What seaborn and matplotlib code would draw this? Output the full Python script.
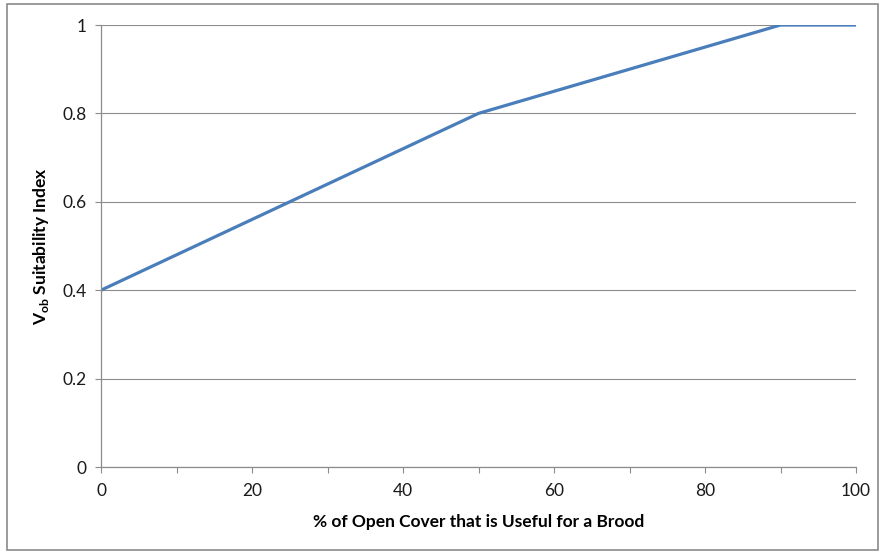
import matplotlib
matplotlib.use("Agg")
import matplotlib.pyplot as plt
import seaborn as sns
import pandas as pd
from matplotlib.patches import Rectangle
from matplotlib.ticker import MultipleLocator

# Suitability curve for open brood cover
open_cover_pct = [0, 50, 90, 100]
suitability = [0.4, 0.8, 1.0, 1.0]

x_ticks = [0, 20, 40, 60, 80, 100]
y_ticks = [0, 0.2, 0.4, 0.6, 0.8, 1]
y_tick_labels = ["0", "0.2", "0.4", "0.6", "0.8", "1"]

df = pd.DataFrame({"cover": open_cover_pct, "si": suitability})

sns.set_theme(style="white")
plt.rcParams["font.family"] = ["Lato", "DejaVu Sans"]
plt.rcParams["mathtext.fontset"] = "custom"
plt.rcParams["mathtext.rm"] = "Lato"
plt.rcParams["mathtext.bf"] = "Lato:bold"

fig = plt.figure(figsize=(8.8, 5.54), dpi=100)
ax = fig.add_axes([101 / 880, 1 - 467 / 554, (856 - 101) / 880, (467 - 25) / 554])

sns.lineplot(data=df, x="cover", y="si", ax=ax, color="#4A7EBB", linewidth=2.3)

grey = "#8C8C8C"
ax.set_xlim(0, 100)
ax.set_ylim(0, 1)
ax.set_xticks(x_ticks)
ax.xaxis.set_minor_locator(MultipleLocator(10))
ax.set_yticks(y_ticks)
ax.set_yticklabels(y_tick_labels)
ax.yaxis.grid(True, color=grey, linewidth=0.8)
ax.xaxis.grid(False)

for side in ["top", "right"]:
    ax.spines[side].set_visible(False)
for side in ["left", "bottom"]:
    ax.spines[side].set_color(grey)
    ax.spines[side].set_linewidth(0.9)

ax.tick_params(axis="both", which="both", direction="out", color=grey,
               width=0.8, length=4.5, labelsize=12.5, labelcolor="#1a1a1a")
ax.tick_params(axis="x", which="both", bottom=True, pad=7)
ax.tick_params(axis="y", left=True, pad=6)

ax.set_xlabel("% of Open Cover that is Useful for a Brood",
              fontsize=12.5, fontweight="bold", color="#000000", labelpad=11)
ax.set_ylabel(r"$\mathbf{V}_{\mathbf{ob}}$ Suitability Index",
              fontsize=12.5, fontweight="bold", color="#000000", labelpad=8)

# outer chart frame
fig.patches.append(Rectangle((7 / 880, 1 - 550 / 554), (878 - 7) / 880, (550 - 4) / 554,
                             transform=fig.transFigure, fill=False,
                             edgecolor="#8A8A8A", linewidth=1.2))

fig.savefig("out.png", dpi=100)
